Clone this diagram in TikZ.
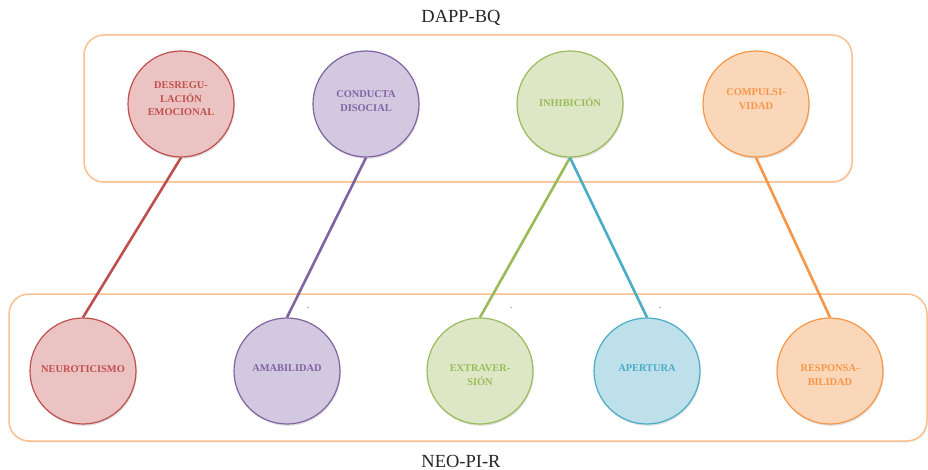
\documentclass[tikz,border=0pt]{standalone}
\usepackage{fontspec}
\setmainfont{Liberation Serif}
\usetikzlibrary{shadows}

% Office-style accent colours
\definecolor{redline}{HTML}{C0504D}\definecolor{redfill}{HTML}{EAC3C2}
\definecolor{purline}{HTML}{8064A2}\definecolor{purfill}{HTML}{D2C8E0}
\definecolor{grnline}{HTML}{9BBB59}\definecolor{grnfill}{HTML}{DDE7C6}
\definecolor{bluline}{HTML}{4BACC6}\definecolor{blufill}{HTML}{BEE0EA}
\definecolor{oraline}{HTML}{F79646}\definecolor{orafill}{HTML}{FBD7BA}
\definecolor{boxline}{HTML}{FAC090}
\definecolor{titletext}{HTML}{262626}

\tikzset{
  groupbox/.style={draw=boxline, fill=white, line width=1.5pt, rounded corners=20pt,
    drop shadow={opacity=0.12, shadow xshift=1pt, shadow yshift=-1.5pt}},
  trait/.style={circle, minimum size=106pt, inner sep=0pt, line width=1.2pt,
    drop shadow={opacity=0.25, shadow xshift=0.8pt, shadow yshift=-1.8pt}},
  traitlabel/.style={font=\fontsize{10.4}{13.5}\selectfont\bfseries, align=center, inner sep=0pt},
  link/.style={line width=2.6pt},
  title/.style={font=\fontsize{18.5}{20}\selectfont, text=titletext},
  tick/.style={font=\fontsize{6}{6}\selectfont, text=titletext, inner sep=0pt}
}

\begin{document}
\begin{tikzpicture}[x=1pt,y=-1pt]
\useasboundingbox (0,0) rectangle (928,470);

% Titles
\node[title] (dapp) at (461,18) {DAPP-BQ};
\node[title] (neo) at (461,461) {NEO-PI-R};

% Group frames
\draw[groupbox] (84,35) rectangle (852,182);
\draw[groupbox] (9,294) rectangle (927,441);

% DAPP-BQ scales
\node[trait, draw=redline, fill=redfill] (desreg) at (181,104) {};
\node[trait, draw=purline, fill=purfill] (conducta) at (366,104) {};
\node[trait, draw=grnline, fill=grnfill] (inhib) at (570,104) {};
\node[trait, draw=oraline, fill=orafill] (compul) at (756,104) {};

% NEO-PI-R domains
\node[trait, draw=redline, fill=redfill] (neurot) at (83,371) {};
\node[trait, draw=purline, fill=purfill] (amab) at (287,371) {};
\node[trait, draw=grnline, fill=grnfill] (extra) at (480,371) {};
\node[trait, draw=bluline, fill=blufill] (apert) at (647,371) {};
\node[trait, draw=oraline, fill=orafill] (respon) at (830,371) {};

% Connectors between scales and domains
\draw[link, redline] (desreg.south) -- (neurot.north);
\draw[link, purline] (conducta.south) -- (amab.north);
\draw[link, grnline] (inhib.south) -- (extra.north);
\draw[link, bluline] (inhib.south) -- (apert.north);
\draw[link, oraline] (compul.south) -- (respon.north);

% Circle labels
\node[traitlabel, text=redline] (t1) at ([yshift=5pt]desreg.center) {DESREGU-\\LACIÓN\\EMOCIONAL};
\node[traitlabel, text=purline] (t2) at ([yshift=3pt]conducta.center) {CONDUCTA\\DISOCIAL};
\node[traitlabel, text=grnline] (t3) at ([yshift=2pt]inhib.center) {INHIBICIÓN};
\node[traitlabel, text=oraline] (t4) at ([yshift=5pt]compul.center) {COMPULSI-\\VIDAD};
\node[traitlabel, text=redline] (t5) at ([yshift=2pt]neurot.center) {NEUROTICISMO};
\node[traitlabel, text=purline] (t6) at ([yshift=3pt]amab.center) {AMABILIDAD};
\node[traitlabel, text=grnline] (t7) at ([yshift=-4pt]extra.center) {EXTRAVER-\\SIÓN};
\node[traitlabel, text=bluline] (t8) at ([yshift=3pt]apert.center) {APERTURA};
\node[traitlabel, text=oraline] (t9) at ([yshift=-4pt]respon.center) {RESPONSA-\\BILIDAD};

% Small stray marks beside the connectors
\node[tick] (m1) at (308,309) {-};
\node[tick] (m2) at (511,309) {-};
\node[tick] (m3) at (660,309) {-};
\end{tikzpicture}
\end{document}
